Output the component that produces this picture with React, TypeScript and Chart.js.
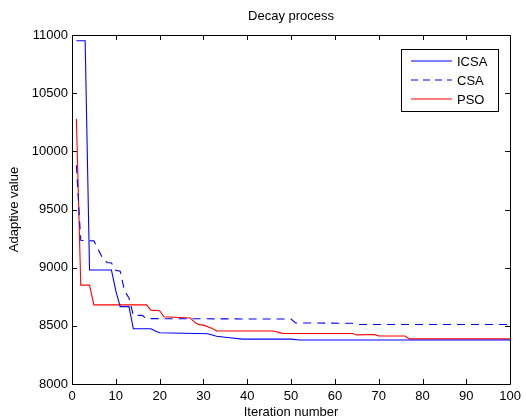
import { useEffect, useRef } from 'react';
import Chart from 'chart.js/auto';

const icsaIter = [1, 3, 4, 9, 10, 11, 13, 14, 18, 19, 20, 31, 33, 36, 39, 50, 52, 100];
const icsaVal = [10950, 10950, 8980, 8980, 8800, 8665, 8665, 8475, 8475, 8455, 8440, 8432, 8410, 8397, 8386, 8386, 8378, 8378];

const csaIter = [1, 2, 5, 7, 8, 9, 10, 11, 12, 13, 14, 16, 17, 50, 51, 64, 65, 100];
const csaVal = [9880, 9235, 9230, 9080, 9045, 9040, 8978, 8970, 8800, 8740, 8590, 8590, 8562, 8558, 8525, 8522, 8512, 8512];

const psoIter = [1, 2, 4, 5, 17, 18, 20, 21, 27, 28, 29, 30, 32, 33, 46, 48, 64, 65, 69, 70, 76, 77, 100];
const psoVal = [10280, 8850, 8850, 8680, 8680, 8635, 8630, 8578, 8568, 8530, 8510, 8506, 8478, 8457, 8455, 8435, 8434, 8422, 8426, 8414, 8413, 8388, 8388];

const seriesNames = ['ICSA', 'CSA', 'PSO'];
const seriesColors = ['#0000ff', '#0000ff', '#ff0000'];
const seriesDash = [[], [8, 6], []];

const xTicks = [0, 10, 20, 30, 40, 50, 60, 70, 80, 90, 100];
const yTicks = [8000, 8500, 9000, 9500, 10000, 10500, 11000];

const titleText = 'Decay process';
const xLabel = 'Iteration number';
const yLabel = 'Adaptive value';

const FONT = '"Liberation Sans", Arial, Helvetica, sans-serif';

function pts(xs: number[], ys: number[]) {
  return xs.map((x, i) => ({ x, y: ys[i] }));
}

export default function App() {
  const ref = useRef<HTMLCanvasElement | null>(null);

  useEffect(() => {
    if (!ref.current) return;
    const decor = {
      id: 'decor',
      afterDraw(chart: any) {
        const ctx = chart.ctx as CanvasRenderingContext2D;
        const { left, right, top, bottom } = chart.chartArea;
        const xs = chart.scales.x;
        const ys = chart.scales.y;
        ctx.save();
        ctx.strokeStyle = '#000';
        ctx.lineWidth = 1;
        ctx.setLineDash([]);
        ctx.beginPath();
        ctx.rect(Math.round(left) + 0.5, Math.round(top) + 0.5, Math.round(right - left), Math.round(bottom - top));
        ctx.stroke();
        const tl = 5;
        ctx.beginPath();
        xTicks.forEach((v) => {
          const px = Math.round(xs.getPixelForValue(v)) + 0.5;
          ctx.moveTo(px, bottom);
          ctx.lineTo(px, bottom - tl);
          ctx.moveTo(px, top);
          ctx.lineTo(px, top + tl);
        });
        yTicks.forEach((v) => {
          const py = Math.round(ys.getPixelForValue(v)) + 0.5;
          ctx.moveTo(left, py);
          ctx.lineTo(left + tl, py);
          ctx.moveTo(right, py);
          ctx.lineTo(right - tl, py);
        });
        ctx.stroke();
        ctx.fillStyle = '#000';
        ctx.font = `13px ${FONT}`;
        ctx.textAlign = 'center';
        ctx.textBaseline = 'middle';
        ctx.fillText(titleText, (left + right) / 2, 16);
        ctx.fillText(xLabel, (left + right) / 2, 412);
        ctx.save();
        ctx.translate(14, (top + bottom) / 2);
        ctx.rotate(-Math.PI / 2);
        ctx.fillText(yLabel, 0, 0);
        ctx.restore();
        // legend
        const bx = 401.5, by = 49.5, bw = 97, bh = 62;
        ctx.fillStyle = '#fff';
        ctx.fillRect(bx, by, bw, bh);
        ctx.strokeStyle = '#000';
        ctx.lineWidth = 1;
        ctx.strokeRect(bx, by, bw, bh);
        const rows = [61, 80, 99];
        seriesNames.forEach((name, i) => {
          ctx.save();
          ctx.strokeStyle = seriesColors[i];
          ctx.lineWidth = 1.2;
          ctx.setLineDash(i === 1 ? [7, 5] : []);
          ctx.beginPath();
          ctx.moveTo(411, rows[i]);
          ctx.lineTo(452, rows[i]);
          ctx.stroke();
          ctx.restore();
          ctx.fillStyle = '#000';
          ctx.textAlign = 'left';
          ctx.fillText(name, 457, rows[i] + 1);
        });
        ctx.restore();
      },
    };

    const datasets = [
      pts(icsaIter, icsaVal),
      pts(csaIter, csaVal),
      pts(psoIter, psoVal),
    ].map((data, i) => ({
      label: seriesNames[i],
      data,
      borderColor: seriesColors[i],
      backgroundColor: seriesColors[i],
      borderDash: seriesDash[i],
      borderWidth: 1.1,
      pointRadius: 0,
      tension: 0,
      fill: false,
    }));

    const chart = new Chart(ref.current, {
      type: 'line',
      data: { datasets },
      options: {
        animation: false,
        responsive: false,
        maintainAspectRatio: false,
        layout: { padding: { top: 35, right: 10, left: 0, bottom: 0 } },
        plugins: { legend: { display: false }, title: { display: false }, tooltip: { enabled: false } },
        scales: {
          x: {
            type: 'linear',
            min: 0,
            max: 100,
            afterBuildTicks: (s: any) => { s.ticks = xTicks.map((v) => ({ value: v })); },
            afterFit: (s: any) => { s.height = 34; },
            grid: { display: false, drawTicks: false },
            border: { display: false },
            ticks: { color: '#000', padding: 5, maxRotation: 0, font: { family: FONT, size: 13 }, callback: (v: any) => String(v) },
          },
          y: {
            type: 'linear',
            min: 8000,
            max: 11000,
            afterBuildTicks: (s: any) => { s.ticks = yTicks.map((v) => ({ value: v })); },
            afterFit: (s: any) => { s.width = 72; },
            grid: { display: false, drawTicks: false },
            border: { display: false },
            ticks: { color: '#000', padding: 4, font: { family: FONT, size: 13 }, callback: (v: any) => String(v) },
          },
        },
      },
      plugins: [decor],
    });
    return () => chart.destroy();
  }, []);

  return (
    <div style={{ position: 'absolute', left: 0, top: 0, width: 526, height: 418, background: '#fff' }}>
      <canvas ref={ref} width={526} height={418} />
    </div>
  );
}
